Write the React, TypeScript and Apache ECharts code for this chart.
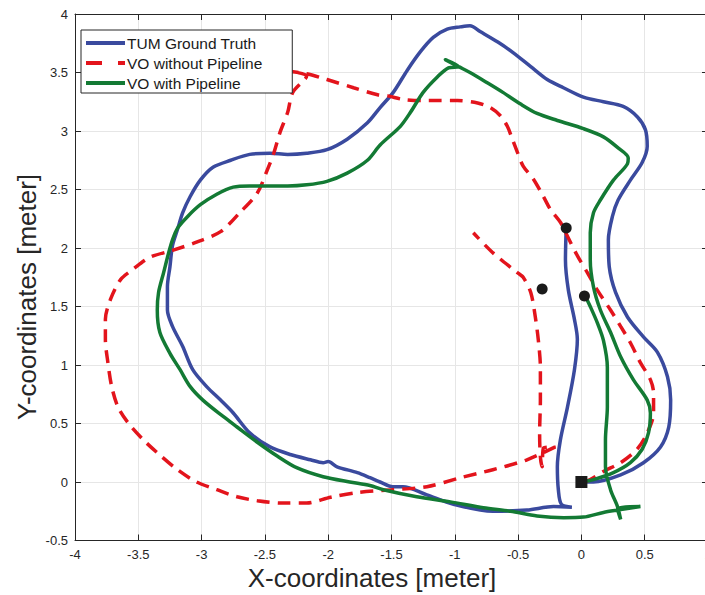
import React, { useEffect, useRef } from "react";
import * as echarts from "echarts";

const seriesNames = ["TUM Ground Truth", "VO without Pipeline", "VO with Pipeline"];
const seriesColors = ["#3A4A9E", "#E3141C", "#137A34"];
const xAxisTitle = "X-coordinates [meter]";
const yAxisTitle = "Y-coordinates [meter]";
const xMin = -4;
const xMax = 1;
const yMin = -0.5;
const yMax = 4;
const tickStep = 0.5;

const groundTruth: [number, number][] = [
  [0, 0], [0.095, 0.0], [0.31, 0.06], [0.49, 0.165], [0.625, 0.3], [0.69, 0.47], [0.705, 0.7], [0.68, 0.9],
  [0.6, 1.11], [0.49, 1.24], [0.364, 1.41], [0.27, 1.62], [0.22, 1.84], [0.213, 2.07], [0.245, 2.27], [0.29, 2.41],
  [0.387, 2.58], [0.48, 2.73], [0.52, 2.87], [0.506, 3.01], [0.443, 3.12], [0.33, 3.21], [0.174, 3.25], [0.016, 3.29],
  [-0.142, 3.37], [-0.27, 3.44], [-0.4, 3.55], [-0.54, 3.67], [-0.66, 3.76], [-0.8, 3.85], [-0.88, 3.9], [-0.957, 3.89],
  [-1.06, 3.87], [-1.17, 3.8], [-1.27, 3.68], [-1.375, 3.52], [-1.486, 3.33], [-1.59, 3.2], [-1.69, 3.07], [-1.85, 2.93],
  [-2.01, 2.84], [-2.17, 2.81], [-2.32, 2.8], [-2.46, 2.81], [-2.62, 2.8], [-2.77, 2.75], [-2.91, 2.69], [-3.01, 2.58],
  [-3.09, 2.44], [-3.15, 2.3], [-3.19, 2.16], [-3.23, 2.02], [-3.25, 1.84], [-3.27, 1.67], [-3.27, 1.47], [-3.23, 1.33],
  [-3.15, 1.16], [-3.07, 0.96], [-2.96, 0.815], [-2.85, 0.7], [-2.75, 0.59], [-2.62, 0.42], [-2.46, 0.3], [-2.3, 0.235],
  [-2.14, 0.19], [-2.04, 0.165], [-2.0, 0.175], [-1.93, 0.13], [-1.77, 0.08], [-1.67, 0.037], [-1.59, 0.0], [-1.49, -0.04],
  [-1.41, -0.04], [-1.22, -0.11], [-1.01, -0.19], [-0.7, -0.25], [-0.43, -0.24], [-0.22, -0.21], [-0.075, -0.215],
  [-0.158, -0.19], [-0.182, -0.066], [-0.19, 0.13], [-0.166, 0.36], [-0.11, 0.64], [-0.055, 0.96], [-0.032, 1.22],
  [-0.055, 1.39], [-0.103, 1.64], [-0.126, 1.9], [-0.12, 2.17],
];

const voWithoutPipeline: [number, number][] = [
  [0.02, 0.0], [0.07, 0.02], [0.174, 0.09], [0.31, 0.165], [0.44, 0.28], [0.52, 0.42], [0.57, 0.59], [0.57, 0.76],
  [0.545, 0.875], [0.466, 1.02], [0.387, 1.19], [0.31, 1.33], [0.23, 1.47], [0.126, 1.64], [0.047, 1.79], [-0.03, 1.93],
  [-0.11, 2.1], [-0.166, 2.22], [-0.245, 2.33], [-0.3, 2.44], [-0.38, 2.59], [-0.46, 2.7], [-0.506, 2.82], [-0.545, 2.93],
  [-0.585, 3.04], [-0.64, 3.13], [-0.72, 3.2], [-0.82, 3.24], [-0.98, 3.26], [-1.14, 3.26], [-1.27, 3.26], [-1.41, 3.27],
  [-1.53, 3.3], [-1.61, 3.31], [-1.8, 3.37], [-2.01, 3.44], [-2.17, 3.49], [-2.32, 3.51], [-2.17, 3.47], [-2.28, 3.33],
  [-2.32, 3.16], [-2.38, 2.99], [-2.43, 2.81], [-2.48, 2.67], [-2.56, 2.47], [-2.7, 2.3], [-2.85, 2.14], [-3.04, 2.05],
  [-3.23, 1.98], [-3.41, 1.92], [-3.54, 1.82], [-3.64, 1.73], [-3.72, 1.56], [-3.76, 1.39], [-3.76, 1.22], [-3.74, 1.02],
  [-3.71, 0.815], [-3.66, 0.64], [-3.58, 0.505], [-3.46, 0.36], [-3.35, 0.25], [-3.19, 0.105], [-3.04, 0.0], [-2.88, -0.066],
  [-2.72, -0.126], [-2.56, -0.16], [-2.36, -0.18], [-2.17, -0.18], [-1.98, -0.13], [-1.77, -0.09], [-1.49, -0.066],
  [-1.22, -0.04], [-0.957, 0.036], [-0.7, 0.105], [-0.43, 0.19], [-0.206, 0.3], [-0.3, 0.29], [-0.31, 0.13],
  [-0.324, 0.215], [-0.33, 0.42], [-0.324, 0.7], [-0.324, 0.98], [-0.34, 1.21], [-0.364, 1.41], [-0.4, 1.62],
  [-0.46, 1.75], [-0.506, 1.79], [-0.7, 1.96], [-0.854, 2.13],
];

const voWithPipeline: [number, number][] = [
  [0, 0], [0.095, 0.02], [0.253, 0.08], [0.387, 0.165], [0.48, 0.28], [0.53, 0.42], [0.545, 0.59], [0.52, 0.7],
  [0.41, 0.875], [0.31, 1.07], [0.23, 1.28], [0.15, 1.47], [0.095, 1.67], [0.07, 1.9], [0.07, 2.13], [0.095, 2.3],
  [0.15, 2.41], [0.253, 2.58], [0.364, 2.72], [0.37, 2.77], [0.285, 2.86], [0.174, 2.95], [0.016, 3.02], [-0.19, 3.09],
  [-0.35, 3.15], [-0.48, 3.23], [-0.62, 3.33], [-0.74, 3.41], [-0.88, 3.5], [-0.97, 3.55], [-1.075, 3.61], [-0.97, 3.55],
  [-1.05, 3.54], [-1.14, 3.46], [-1.25, 3.33], [-1.35, 3.16], [-1.43, 3.04], [-1.59, 2.88], [-1.69, 2.75], [-1.85, 2.64],
  [-2.01, 2.57], [-2.17, 2.54], [-2.32, 2.53], [-2.48, 2.53], [-2.62, 2.53], [-2.75, 2.52], [-2.88, 2.46], [-3.01, 2.37],
  [-3.11, 2.27], [-3.19, 2.17], [-3.23, 2.07], [-3.26, 1.96], [-3.3, 1.79], [-3.34, 1.62], [-3.35, 1.47], [-3.33, 1.28],
  [-3.25, 1.1], [-3.17, 0.96], [-3.09, 0.815], [-2.99, 0.7], [-2.83, 0.56], [-2.72, 0.47], [-2.56, 0.34], [-2.4, 0.22],
  [-2.245, 0.12], [-2.04, 0.045], [-1.83, 0.0], [-1.67, -0.03], [-1.565, -0.066], [-1.3, -0.126], [-1.035, -0.17],
  [-0.775, -0.22], [-0.56, -0.25], [-0.35, -0.29], [-0.14, -0.305], [0.016, -0.3], [0.174, -0.26], [0.285, -0.24],
  [0.466, -0.21], [0.285, -0.23], [0.31, -0.32], [0.285, -0.21], [0.23, -0.066], [0.19, 0.13], [0.19, 0.36],
  [0.205, 0.64], [0.205, 0.98], [0.174, 1.21], [0.126, 1.36], [0.07, 1.5], [0.03, 1.59],
];

const startMarkers: [number, number][] = [[-0.12, 2.17], [-0.31, 1.65], [0.024, 1.59]];
const endMarker: [number, number][] = [[0, 0]];

const FONT = '"Liberation Sans", Arial, Helvetica, sans-serif';
const AXIS_COLOR = "#262626";

function makeXAxis(position: "bottom" | "top", primary: boolean) {
  return {
    type: "value",
    min: xMin,
    max: xMax,
    interval: tickStep,
    position,
    axisLine: { show: true, onZero: false, lineStyle: { color: AXIS_COLOR, width: 1 } },
    axisTick: { show: true, inside: true, length: 6, lineStyle: { color: AXIS_COLOR } },
    axisLabel: { show: primary, color: AXIS_COLOR, fontSize: 13, margin: 7, fontFamily: FONT },
    splitLine: { show: primary, lineStyle: { color: "#e6e6e6", width: 1 } },
  };
}

function makeYAxis(position: "left" | "right", primary: boolean) {
  return {
    type: "value",
    min: yMin,
    max: yMax,
    interval: tickStep,
    position,
    axisLine: { show: true, onZero: false, lineStyle: { color: AXIS_COLOR, width: 1 } },
    axisTick: { show: true, inside: true, length: 6, lineStyle: { color: AXIS_COLOR } },
    axisLabel: { show: primary, color: AXIS_COLOR, fontSize: 13, margin: 7, fontFamily: FONT },
    splitLine: { show: primary, lineStyle: { color: "#e6e6e6", width: 1 } },
  };
}

const paths = [groundTruth, voWithoutPipeline, voWithPipeline];

export default function App() {
  const ref = useRef<HTMLDivElement>(null);
  useEffect(() => {
    if (!ref.current) return;
    const chart = echarts.init(ref.current, null, { renderer: "svg" });
    const lineSeries = seriesNames.map((name, i) => ({
      name,
      type: "line",
      data: paths[i],
      xAxisIndex: 0,
      yAxisIndex: 0,
      symbol: "none",
      showSymbol: false,
      smooth: 0.3,
      z: 2 + i,
      itemStyle: { color: seriesColors[i] },
      lineStyle: {
        color: seriesColors[i],
        width: 3.5,
        type: i === 1 ? [13, 8] : "solid",
        cap: "butt",
      },
    }));
    chart.setOption({
      animation: false,
      backgroundColor: "#ffffff",
      grid: {
        left: 75,
        top: 14,
        width: 633,
        height: 526.5,
        containLabel: false,
        outerBoundsMode: "none",
      },
      xAxis: [makeXAxis("bottom", true), makeXAxis("top", false)],
      yAxis: [makeYAxis("left", true), makeYAxis("right", false)],
      legend: {
        data: seriesNames.map((name, i) =>
          i === 1 ? { name, lineStyle: { type: [16, 16], width: 4 } } : { name }
        ),
        orient: "vertical",
        left: 81,
        top: 30,
        itemWidth: 39,
        itemHeight: 14,
        itemGap: 4,
        padding: [5, 30, 2, 3],
        backgroundColor: "#ffffff",
        borderColor: AXIS_COLOR,
        borderWidth: 1,
        borderRadius: 0,
        selectedMode: false,
        itemStyle: { color: "rgba(0,0,0,0)", borderColor: "rgba(0,0,0,0)", borderWidth: 0, opacity: 0 },
        lineStyle: { width: 4 },
        textStyle: { color: "#1a1a1a", fontSize: 15.5, fontFamily: FONT, padding: [0, 0, 0, -3] },
      },
      series: [
        ...lineSeries,
        {
          name: "start",
          type: "scatter",
          data: startMarkers,
          symbol: "circle",
          symbolSize: 11,
          z: 10,
          itemStyle: { color: "#1a1a1a", opacity: 1 },
        },
        {
          name: "end",
          type: "scatter",
          data: endMarker,
          symbol: "rect",
          symbolSize: 12,
          z: 10,
          itemStyle: { color: "#1a1a1a", opacity: 1 },
        },
      ],
      graphic: [
        {
          type: "text",
          x: 372,
          y: 578,
          style: {
            text: xAxisTitle,
            fontSize: 26,
            fontFamily: FONT,
            fill: AXIS_COLOR,
            align: "center",
            verticalAlign: "middle",
          },
        },
        {
          type: "text",
          x: 27,
          y: 297,
          rotation: Math.PI / 2,
          style: {
            text: yAxisTitle,
            fontSize: 26,
            fontFamily: FONT,
            fill: AXIS_COLOR,
            align: "center",
            verticalAlign: "middle",
          },
        },
      ],
    });
    return () => chart.dispose();
  }, []);
  return (
    <div
      ref={ref}
      style={{ position: "fixed", left: 0, top: 0, width: 705, height: 595, background: "#ffffff" }}
    />
  );
}
